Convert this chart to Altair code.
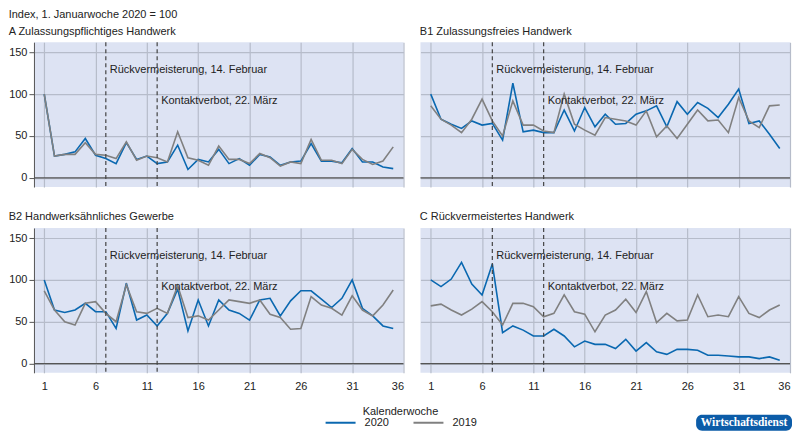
import pandas as pd
import altair as alt

weeks = list(range(1, 36))

a_2020 = [100, 26, 28, 31, 47, 27, 23, 17, 42, 22, 26, 17, 19, 39, 10, 22, 19, 34,
          17, 23, 15, 28, 25, 15, 19, 20, 41, 20, 20, 18, 35, 19, 19, 13, 11]
a_2019 = [100, 26, 28, 28, 42, 28, 27, 23, 43, 21, 26, 24, 19, 55, 24, 21, 15, 38,
          22, 22, 17, 29, 24, 14, 19, 17, 46, 21, 21, 17, 34, 22, 16, 20, 37]

b1_2020 = [100, 70, 64, 59, 68, 63, 65, 45, 113, 55, 57, 54, 54, 81, 56, 84, 61, 76,
           64, 65, 76, 80, 86, 61, 91, 76, 90, 83, 72, 88, 106, 65, 68, 52, 35]
b1_2019 = [86, 70, 63, 54, 70, 94, 68, 50, 92, 63, 63, 56, 54, 100, 64, 57, 51, 72,
           70, 68, 63, 80, 49, 62, 47, 64, 81, 68, 69, 54, 96, 68, 60, 86, 87]

b2_2020 = [100, 64, 61, 64, 72, 62, 62, 42, 96, 52, 58, 45, 60, 89, 39, 76, 45, 76,
           64, 60, 52, 76, 78, 57, 75, 87, 87, 77, 67, 78, 100, 66, 57, 45, 42]
b2_2019 = [87, 64, 50, 46, 72, 74, 60, 50, 94, 62, 60, 66, 60, 93, 55, 57, 52, 64,
           76, 74, 72, 76, 59, 55, 41, 42, 80, 70, 66, 58, 81, 64, 57, 70, 88]

c_2020 = [100, 92, 101, 121, 95, 82, 119, 37, 45, 40, 33, 33, 41, 33, 20, 27, 23, 23,
          18, 29, 15, 25, 14, 11, 17, 17, 16, 10, 10, 9, 8, 8, 6, 8, 4]
c_2019 = [69, 71, 64, 58, 65, 74, 62, 46, 72, 72, 68, 56, 60, 82, 62, 59, 38, 58,
          64, 77, 61, 86, 49, 60, 51, 52, 82, 56, 58, 56, 80, 60, 55, 64, 70]

event_weeks = [7, 12]
event_labels = ["Rückvermeisterung, 14. Februar", "Kontaktverbot, 22. März"]
event_label_y = [129, 92]

x_ticks = [1, 6, 11, 16, 21, 26, 31, 36]
y_ticks = [0, 50, 100, 150]

BLUE = "#0a68b0"
GREY = "#808080"
FONT = "Liberation Sans"

events = pd.DataFrame({"week": event_weeks, "label": event_labels, "value": event_label_y})
zero = pd.DataFrame({"value": [0]})


def long_df(v2020, v2019):
    return pd.DataFrame({
        "week": weeks * 2,
        "value": v2020 + v2019,
        "Jahr": ["2020"] * len(weeks) + ["2019"] * len(weeks),
    })


def panel(v2020, v2019, title, show_y, show_x, badge=False):
    x = alt.X("week:Q", scale=alt.Scale(domain=[0, 36], nice=False, zero=False),
              axis=alt.Axis(values=x_ticks, labels=show_x, ticks=False, domain=False,
                            labelPadding=8, title=None))
    y = alt.Y("value:Q", scale=alt.Scale(domain=[-11, 162], nice=False),
              axis=alt.Axis(values=y_ticks, labels=show_y, ticks=show_y, domain=show_y,
                            title=None))
    lines = alt.Chart(long_df(v2020, v2019)).mark_line(strokeWidth=1.6).encode(
        x=x, y=y,
        color=alt.Color("Jahr:N", sort=["2020", "2019"],
                        scale=alt.Scale(domain=["2020", "2019"], range=[BLUE, GREY]),
                        legend=alt.Legend(title="Kalenderwoche", orient="none",
                                          direction="horizontal", titleAnchor="middle",
                                          legendX=291, legendY=364, symbolType="stroke",
                                          symbolSize=900, symbolStrokeWidth=2,
                                          columnPadding=20, labelOffset=8,
                                          titlePadding=-10)),
    )
    zline = alt.Chart(zero).mark_rule(color="#555555", strokeWidth=1.2).encode(y="value:Q")
    vlines = alt.Chart(events).mark_rule(color="#444444", strokeDash=[4, 3],
                                          strokeWidth=1.2).encode(x="week:Q")
    labels = alt.Chart(events).mark_text(align="left", dx=4, fontSize=11, font=FONT,
                                         color="#222222").encode(
        x="week:Q", y="value:Q", text="label:N")
    layers = [lines, zline, vlines, labels]
    if badge:
        tag = pd.DataFrame({"t": ["Wirtschaftsdienst"]})
        box = alt.Chart(tag).mark_rect(color="#0c5ca8", cornerRadius=6).encode(
            x=alt.value(276), x2=alt.value(372), y=alt.value(187), y2=alt.value(203))
        txt = alt.Chart(tag).mark_text(color="white", font="Liberation Serif",
                                       fontSize=11.5, fontWeight="bold").encode(
            x=alt.value(324), y=alt.value(195), text="t:N")
        layers += [box, txt]
    return alt.layer(*layers).properties(
        width=370, height=145,
        title=alt.TitleParams(title, anchor="start", fontSize=11, font=FONT,
                              fontWeight="normal", color="#222222", offset=5),
    )


top = alt.hconcat(
    panel(a_2020, a_2019, "A Zulassungspflichtiges Handwerk", True, False),
    panel(b1_2020, b1_2019, "B1 Zulassungsfreies Handwerk", False, False),
    spacing=15,
)
bottom = alt.hconcat(
    panel(b2_2020, b2_2019, "B2 Handwerksähnliches Gewerbe", True, True),
    panel(c_2020, c_2019, "C Rückvermeistertes Handwerk", False, True, badge=True),
    spacing=15,
)

chart = alt.vconcat(top, bottom, spacing=23).properties(
    title=alt.TitleParams("Index, 1. Januarwoche 2020 = 100", anchor="start",
                          fontSize=11, font=FONT, fontWeight="normal",
                          color="#222222", offset=6),
    padding={"left": 0, "top": 0, "right": 0, "bottom": 0},
).configure_view(
    fill="#dde3f3", stroke=None
).configure_axis(
    gridColor="#b6bcca", gridWidth=1.2, domainColor="#555555", tickColor="#555555",
    tickSize=5, labelFont=FONT, labelFontSize=11, labelColor="#222222",
).configure_legend(
    titleFont=FONT, titleFontSize=11, titleFontWeight="normal", titleColor="#222222",
    labelFont=FONT, labelFontSize=11, labelColor="#222222",
)

chart.save("out.html", embed_options={"renderer": "svg", "actions": False})
